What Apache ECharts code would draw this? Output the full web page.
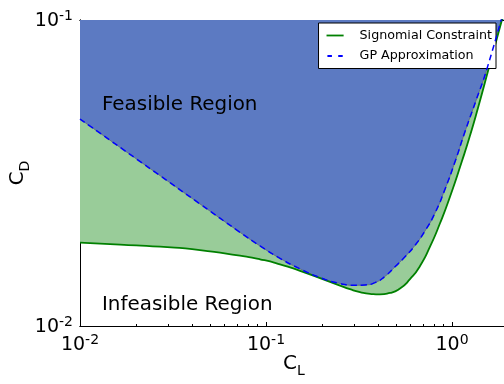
<!DOCTYPE html>
<html><head><meta charset="utf-8">
<script src="https://cdn.jsdelivr.net/npm/echarts@6/dist/echarts.min.js"></script>
<style>html,body{margin:0;padding:0;background:#fff}#c{width:504px;height:384px}</style>
</head><body><div id="c"></div>
<script>
// ---- data ----
const sigCL = [0.01, 0.01641, 0.02692, 0.04417, 0.07246, 0.09284, 0.1189, 0.1524, 0.1951, 0.2499, 0.2829, 0.3201, 0.3622, 0.4101, 0.4642, 0.5254, 0.5943, 0.6730, 0.7616, 0.8619, 0.9754, 1.128, 1.250, 1.385, 1.567, 2.0];
const sigCD = [0.01872, 0.01846, 0.01816, 0.01771, 0.01697, 0.01652, 0.01591, 0.01515, 0.01433, 0.01355, 0.01319, 0.01291, 0.01274, 0.01269, 0.01282, 0.01326, 0.01422, 0.01571, 0.01816, 0.02166, 0.02645, 0.03442, 0.04194, 0.05209, 0.06864, 0.1183];
const gpCL = [0.01, 0.02692, 0.04417, 0.07246, 0.09284, 0.1189, 0.1524, 0.1951, 0.2499, 0.3010, 0.3405, 0.3855, 0.4363, 0.4938, 0.5589, 0.6325, 0.7155, 0.8102, 0.9171, 1.038, 1.175, 1.358, 1.537, 2.0];
const gpCD = [0.04747, 0.03101, 0.02505, 0.02024, 0.01827, 0.01664, 0.01537, 0.01440, 0.01377, 0.01358, 0.01362, 0.01386, 0.01453, 0.01561, 0.01683, 0.01835, 0.02044, 0.02340, 0.02800, 0.03442, 0.04319, 0.05540, 0.06889, 0.1207];
const xRange = [0.01, 2.0];
const yRange = [0.01, 0.1];
const xMajorTicks = [0.01, 0.1, 1];
const xMinorTicks = [0.02, 0.03, 0.04, 0.05, 0.06, 0.07, 0.08, 0.09, 0.2, 0.3, 0.4, 0.5, 0.6, 0.7, 0.8, 0.9, 2];
const yMajorTicks = [0.01, 0.1];
const yMinorTicks = [0.02, 0.03, 0.04, 0.05, 0.06, 0.07, 0.08, 0.09];
const seriesNames = ['Signomial Constraint', 'GP Approximation'];
const regionLabels = ['Feasible Region', 'Infeasible Region'];
const xTitle = ['C', 'L'];
const yTitle = ['C', 'D'];

// ---- styling ----
const FONT = 'DejaVu Sans';
const SMOOTH = 0.6;
const zip = (a, b) => a.map((v, i) => [v, b[i]]);
const pow10Label = v => '{b|10}{s|' + Math.round(Math.log10(v)) + '}';
const labelRich = {
  b: { fontSize: 19, lineHeight: 22, verticalAlign: 'bottom', fontFamily: FONT, color: '#000' },
  s: { fontSize: 14, lineHeight: 14, verticalAlign: 'top', fontFamily: FONT, color: '#000' }
};
const titleRich = {
  c: { fontSize: 20, lineHeight: 24, verticalAlign: 'top', fontFamily: FONT, color: '#000' },
  d: { fontSize: 14, lineHeight: 14, verticalAlign: 'bottom', fontFamily: FONT, color: '#000' }
};

function logAxis(range, position, ticks, len, withLabels, extra) {
  return Object.assign({
    type: 'log', logBase: 10, min: range[0], max: range[1], gridIndex: 0, position: position,
    splitLine: { show: false },
    axisLine: { show: true, onZero: false, lineStyle: { color: '#000', width: 1 } },
    axisTick: { show: true, inside: true, length: len, customValues: ticks, lineStyle: { color: '#000', width: 1 } },
    axisLabel: withLabels ? { show: true, customValues: ticks, formatter: pow10Label, rich: labelRich, margin: 7 } : { show: false },
    minorTick: { show: false }
  }, extra || {});
}

const chart = echarts.init(document.getElementById('c'), null, { renderer: 'canvas' });
chart.setOption({
  animation: false,
  backgroundColor: '#fff',
  grid: { left: 80, top: 20, right: -4, bottom: 58, containLabel: false, outerBoundsMode: 'none' },
  xAxis: [
    logAxis(xRange, 'bottom', xMajorTicks, 4, true, {
      name: '{c|' + xTitle[0] + '}{d|' + xTitle[1] + '}', nameLocation: 'middle', nameGap: 28, nameMoveOverlap: false,
      nameTextStyle: { rich: titleRich }
    }),
    logAxis(xRange, 'bottom', xMinorTicks, 2, false),
    logAxis(xRange, 'top', xMajorTicks, 4, false),
    logAxis(xRange, 'top', xMinorTicks, 2, false)
  ],
  yAxis: [
    logAxis(yRange, 'left', yMajorTicks, 4, true, {
      name: '{c|' + yTitle[0] + '}{d|' + yTitle[1] + '}', nameLocation: 'middle', nameGap: 48, nameRotate: 90, nameMoveOverlap: false,
      nameTextStyle: { rich: titleRich }
    }),
    logAxis(yRange, 'left', yMinorTicks, 2, false)
  ],
  legend: {
    data: [
      { name: seriesNames[0], icon: 'path://M0,0h19v2h-19z' },
      { name: seriesNames[1], icon: 'path://M0,0h5v2h-5z M12,0h5v2h-5z' }
    ],
    orient: 'vertical', right: 8, top: 23,
    padding: [5, 4, 5, 8], itemGap: 5.5, itemWidth: 19, itemHeight: 1.8,
    backgroundColor: '#fff', borderColor: '#000', borderWidth: 1, borderRadius: 0,
    textStyle: { fontSize: 12.7, lineHeight: 15, fontFamily: FONT, color: '#000', padding: [0, 0, 0, 10] }
  },
  series: [
    { name: 'sigFill', type: 'line', data: zip(sigCL, sigCD), symbol: 'none', smooth: SMOOTH,
      lineStyle: { width: 0, opacity: 0 }, areaStyle: { color: '#99cc99', opacity: 1, origin: 'end' }, z: 1, silent: true },
    { name: 'gpFill', type: 'line', data: zip(gpCL, gpCD), symbol: 'none', smooth: SMOOTH,
      lineStyle: { width: 0.8, color: '#5a6478' }, areaStyle: { color: 'rgb(92,122,194)', opacity: 1, origin: 'end' }, z: 2, silent: true },
    { name: seriesNames[0], type: 'line', data: zip(sigCL, sigCD), symbol: 'none', smooth: SMOOTH,
      color: '#008000', lineStyle: { width: 1.8, color: '#008000' }, z: 3 },
    { name: seriesNames[1], type: 'line', data: zip(gpCL, gpCD), symbol: 'none', smooth: SMOOTH,
      color: '#0000ff', lineStyle: { width: 1.5, color: '#0000ff', type: [6, 4] }, z: 4 }
  ],
  graphic: [
    { type: 'text', x: 102, y: 105, z: 10, style: { text: regionLabels[0], fontSize: 19.9, fontFamily: FONT, fill: '#000', align: 'left', verticalAlign: 'middle' } },
    { type: 'text', x: 102, y: 304.5, z: 10, style: { text: regionLabels[1], fontSize: 19.9, fontFamily: FONT, fill: '#000', align: 'left', verticalAlign: 'middle' } }
  ]
});
</script></body></html>
